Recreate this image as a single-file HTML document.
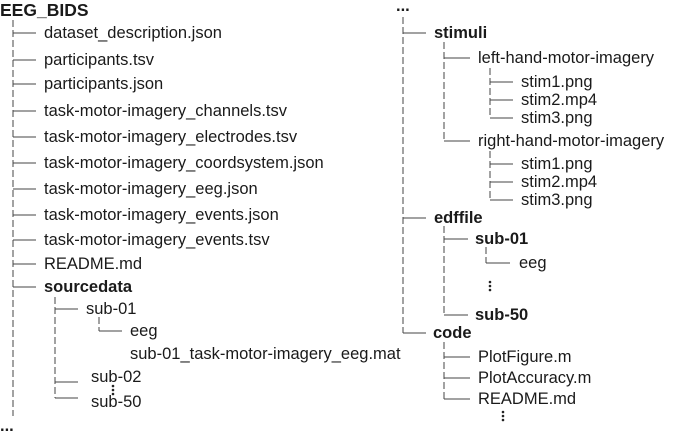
<!DOCTYPE html>
<html><head><meta charset="utf-8"><style>
html,body{margin:0;padding:0;background:#fff;}
svg{display:block;}
text{font-family:"Liberation Sans",sans-serif;font-size:16.5px;fill:#1a1a1a;dominant-baseline:central;}
.b{font-weight:bold;}
line{stroke:#444;stroke-width:1;}
.d{stroke-dasharray:7,3;}
circle{fill:#222;}
</style></head><body>
<svg width="675" height="433" viewBox="0 0 675 433">
<text x="0" y="10" class="b" style="font-size:17.5px">EEG_BIDS</text>
<line class="d" x1="13" y1="20" x2="13" y2="416"/>
<g>
<line x1="13" y1="33" x2="36" y2="33"/><text x="44" y="33">dataset_description.json</text>
<line x1="13" y1="60" x2="36" y2="60"/><text x="44" y="60">participants.tsv</text>
<line x1="13" y1="84" x2="36" y2="84"/><text x="44" y="84">participants.json</text>
<line x1="13" y1="111" x2="36" y2="111"/><text x="44" y="111">task-motor-imagery_channels.tsv</text>
<line x1="13" y1="137" x2="36" y2="137"/><text x="44" y="137">task-motor-imagery_electrodes.tsv</text>
<line x1="13" y1="163" x2="36" y2="163"/><text x="44" y="163">task-motor-imagery_coordsystem.json</text>
<line x1="13" y1="189" x2="36" y2="189"/><text x="44" y="189">task-motor-imagery_eeg.json</text>
<line x1="13" y1="215" x2="36" y2="215"/><text x="44" y="215">task-motor-imagery_events.json</text>
<line x1="13" y1="240" x2="36" y2="240"/><text x="44" y="240">task-motor-imagery_events.tsv</text>
<line x1="13" y1="264" x2="36" y2="264"/><text x="44" y="264">README.md</text>
<line x1="13" y1="287" x2="36" y2="287"/><text x="44" y="287" class="b">sourcedata</text>
</g>
<line class="d" x1="55" y1="297" x2="55" y2="398"/>
<line x1="55" y1="309" x2="78" y2="309"/><text x="86" y="309">sub-01</text>
<line class="d" x1="99" y1="317" x2="99" y2="331"/>
<line x1="99" y1="331" x2="122" y2="331"/><text x="130" y="331">eeg</text>
<text x="130" y="354">sub-01_task-motor-imagery_eeg.mat</text>
<line x1="55" y1="382" x2="78" y2="382"/><text x="91" y="377">sub-02</text>
<circle cx="113" cy="386" r="1.3"/><circle cx="113" cy="390" r="1.3"/><circle cx="113" cy="394" r="1.3"/>
<line x1="55" y1="398" x2="78" y2="398"/><text x="91" y="402">sub-50</text>
<text x="0" y="426" class="b">...</text>

<text x="396" y="6" class="b">...</text>
<line class="d" x1="403" y1="17" x2="403" y2="333"/>
<line x1="403" y1="33" x2="426" y2="33"/><text x="434" y="33" class="b">stimuli</text>
<line class="d" x1="444" y1="42" x2="444" y2="141"/>
<line x1="444" y1="58" x2="470" y2="58"/><text x="478" y="58">left-hand-motor-imagery</text>
<line class="d" x1="490" y1="68" x2="490" y2="118"/>
<line x1="490" y1="82" x2="513" y2="82"/><text x="521" y="82">stim1.png</text>
<line x1="490" y1="100" x2="513" y2="100"/><text x="521" y="100">stim2.mp4</text>
<line x1="490" y1="118" x2="513" y2="118"/><text x="521" y="118">stim3.png</text>
<line x1="444" y1="141" x2="470" y2="141"/><text x="478" y="141">right-hand-motor-imagery</text>
<line class="d" x1="490" y1="151" x2="490" y2="200"/>
<line x1="490" y1="164" x2="513" y2="164"/><text x="521" y="164">stim1.png</text>
<line x1="490" y1="182" x2="513" y2="182"/><text x="521" y="182">stim2.mp4</text>
<line x1="490" y1="200" x2="513" y2="200"/><text x="521" y="200">stim3.png</text>
<line x1="403" y1="218" x2="426" y2="218"/><text x="434" y="218" class="b">edffile</text>
<line class="d" x1="444" y1="226" x2="444" y2="315"/>
<line x1="444" y1="239" x2="468" y2="239"/><text x="475" y="239" class="b">sub-01</text>
<line class="d" x1="486" y1="247" x2="486" y2="263"/>
<line x1="486" y1="263" x2="510" y2="263"/><text x="519" y="263">eeg</text>
<circle cx="490" cy="282" r="1.3"/><circle cx="490" cy="286" r="1.3"/><circle cx="490" cy="290" r="1.3"/>
<line x1="444" y1="315" x2="468" y2="315"/><text x="475" y="315" class="b">sub-50</text>
<line x1="403" y1="333" x2="426" y2="333"/><text x="433" y="333" class="b">code</text>
<line class="d" x1="444" y1="342" x2="444" y2="399"/>
<line x1="444" y1="357" x2="470" y2="357"/><text x="478" y="357">PlotFigure.m</text>
<line x1="444" y1="378" x2="470" y2="378"/><text x="478" y="378">PlotAccuracy.m</text>
<line x1="444" y1="399" x2="470" y2="399"/><text x="478" y="399">README.md</text>
<circle cx="503" cy="412" r="1.3"/><circle cx="503" cy="416" r="1.3"/><circle cx="503" cy="420" r="1.3"/>
</svg>
</body></html>
